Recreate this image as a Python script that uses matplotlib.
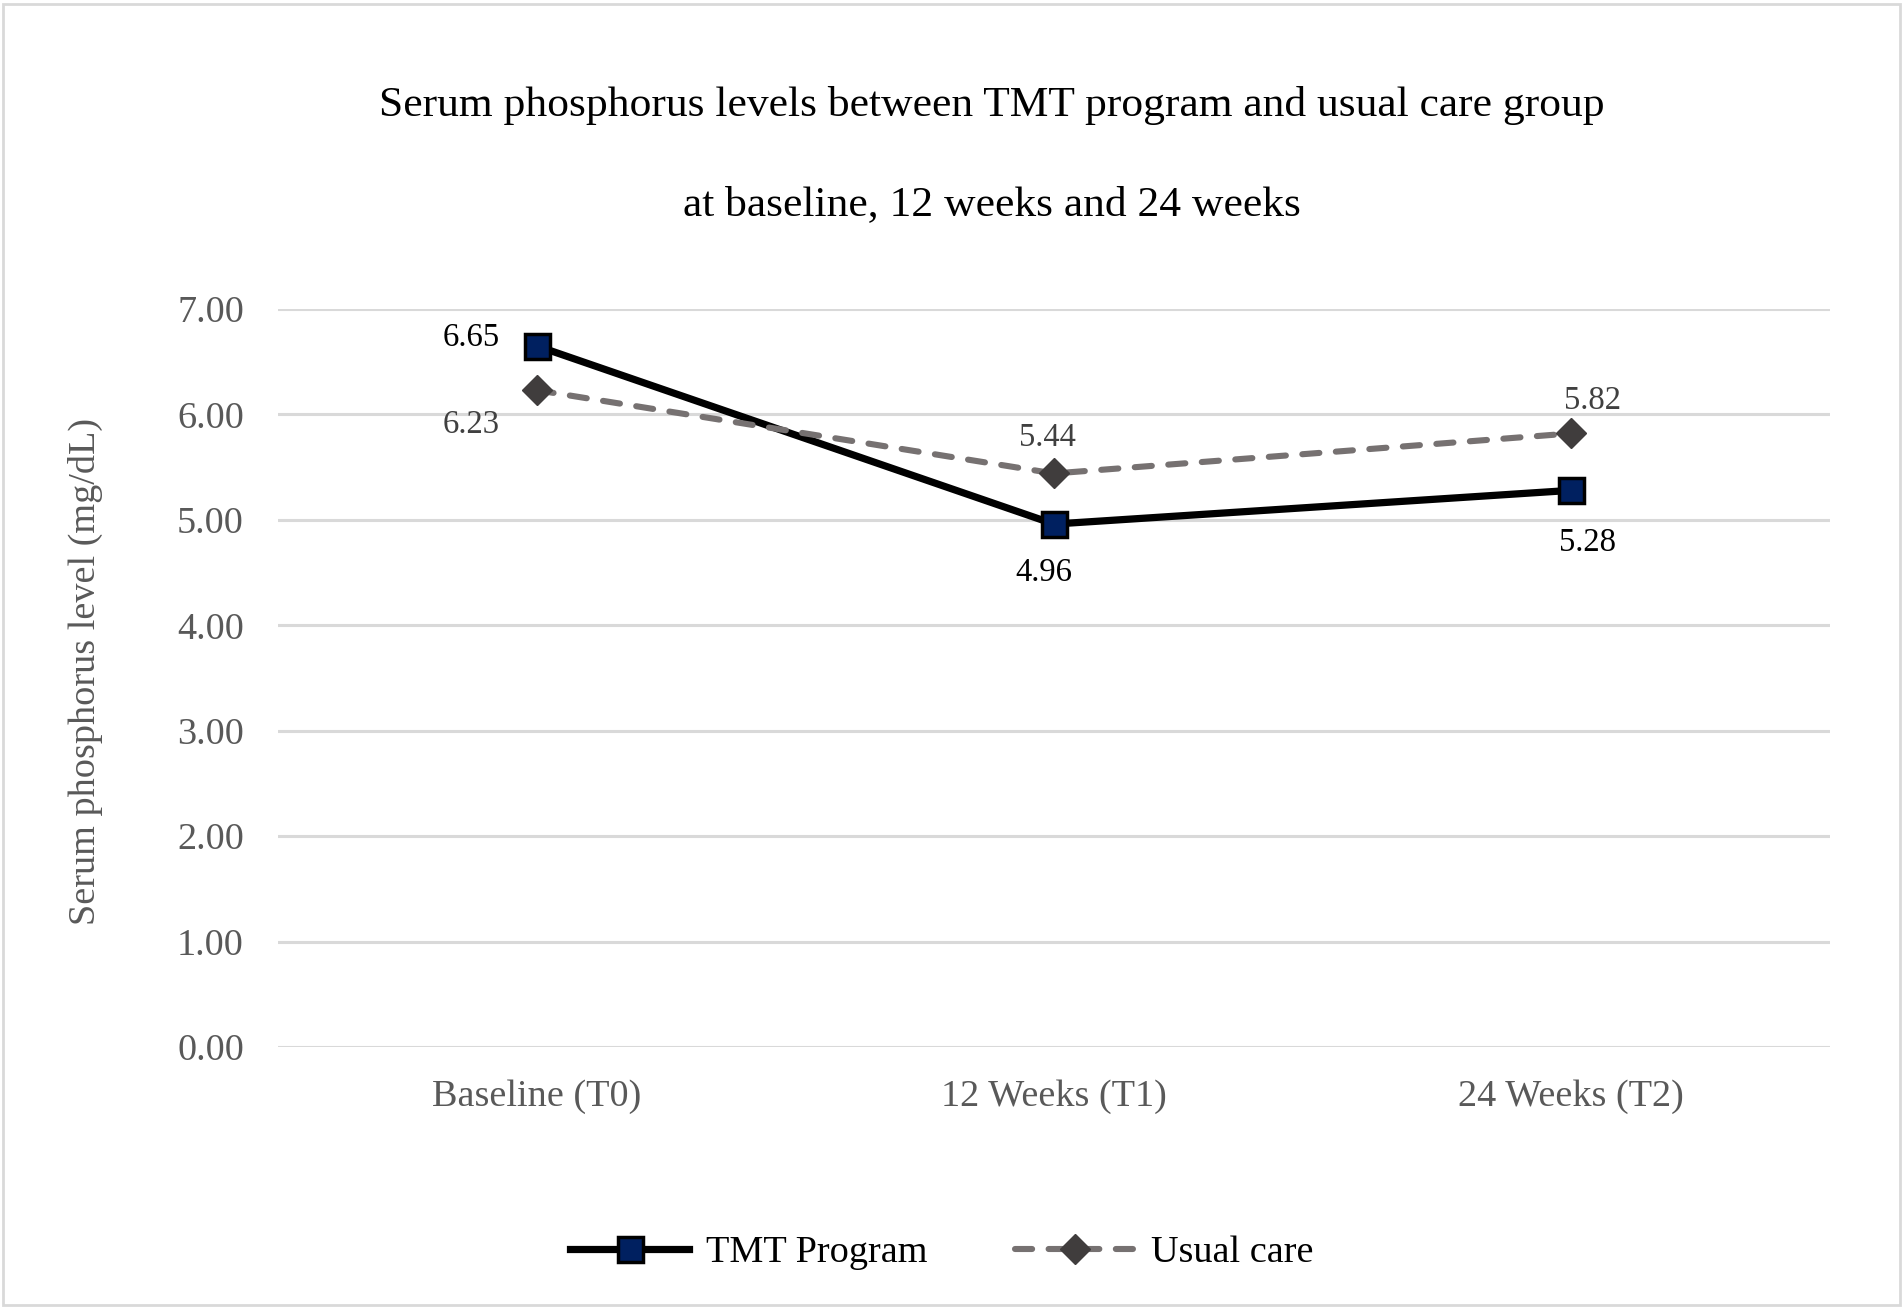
import matplotlib
matplotlib.use("Agg")
import matplotlib.pyplot as plt
from matplotlib.patches import Rectangle

categories = ["Baseline (T0)", "12 Weeks (T1)", "24 Weeks (T2)"]
tmt_values = [6.65, 4.96, 5.28]
usual_values = [6.23, 5.44, 5.82]
yticks = [0, 1, 2, 3, 4, 5, 6, 7]
title_line1 = "Serum phosphorus levels between TMT program and usual care group"
title_line2 = "at baseline, 12 weeks and 24 weeks"
ylabel = "Serum phosphorus level (mg/dL)"
series_names = ["TMT Program", "Usual care"]

plt.rcParams['font.family'] = ['Liberation Serif', 'DejaVu Serif']

W, H = 1904, 1308
fig = plt.figure(figsize=(W / 100, H / 100), dpi=100)
ax_left, ax_right, ax_top, ax_bottom = 278, 1830, 309, 1047
ax = fig.add_axes([ax_left / W, 1 - ax_bottom / H, (ax_right - ax_left) / W, (ax_bottom - ax_top) / H])

x = list(range(len(categories)))
ax.plot(x, tmt_values, color='black', lw=5.2, marker='s', markersize=18,
        markerfacecolor='#002060', markeredgecolor='black', markeredgewidth=2.5,
        label=series_names[0], zorder=3, solid_joinstyle='miter')
ax.plot(x, usual_values, color='#767171', lw=4.4, ls=(0, (2.8, 2.7)), dash_capstyle='round',
        marker='D', markersize=15, markerfacecolor='#403d3d', markeredgecolor='#403d3d',
        markeredgewidth=1, label=series_names[1], zorder=4)

ax.set_xlim(-0.5, 2.5)
ax.set_ylim(0, 7)
ax.set_yticks(yticks)
ax.set_yticklabels([f"{v:.2f}" for v in yticks])
ax.set_xticks(x)
ax.set_xticklabels(categories)
ax.tick_params(axis='both', length=0, labelsize=27.5, labelcolor='#595959')
ax.tick_params(axis='y', pad=24.5)
ax.tick_params(axis='x', pad=23)
ax.grid(axis='y', color='#d9d9d9', lw=2.2)
ax.set_axisbelow(True)
for s in ax.spines.values():
    s.set_visible(False)

fig.text(85 / W, 0.487, ylabel, rotation=90, ha='center', va='center',
         fontsize=27.5, color='#595959')

# data labels (offsets in points)
tmt_offsets = [(-47.5, 6), (-7, -35), (11.5, -37.5)]
usual_offsets = [(-47.5, -25), (-5, 26), (15, 23.5)]
for xi, v, off in zip(x, tmt_values, tmt_offsets):
    ax.annotate(f"{v:.2f}", (xi, v), xytext=off, textcoords='offset points',
                ha='center', va='center', fontsize=23.5, color='black')
for xi, v, off in zip(x, usual_values, usual_offsets):
    ax.annotate(f"{v:.2f}", (xi, v), xytext=off, textcoords='offset points',
                ha='center', va='center', fontsize=23.5, color='#404040')

fig.text(992 / W, 1 - 116 / H, title_line1, ha='center', va='baseline', fontsize=31.3, color='black')
fig.text(992 / W, 1 - 215 / H, title_line2, ha='center', va='baseline', fontsize=31.3, color='black')

leg = fig.legend(loc='center', bbox_to_anchor=(942 / W, 1 - 1253 / H), ncol=2, frameon=False,
                 fontsize=27.5, handlelength=3.1, columnspacing=2.3, handletextpad=0.45)

fig.patches.append(Rectangle((3 / W, 3 / H), (W - 7) / W, (H - 7) / H, transform=fig.transFigure,
                             fill=False, edgecolor='#d9d9d9', lw=2))

fig.savefig("out.png", dpi=100, facecolor='white')
